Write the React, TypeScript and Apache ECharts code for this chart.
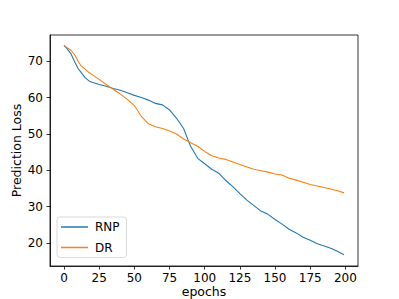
import React, { useEffect, useRef } from "react";
import * as echarts from "echarts";

const epochs = [0, 2, 5, 8, 10, 12, 15, 18, 20, 25, 30, 35, 40, 45, 50, 55, 60, 65, 70, 75, 80, 85, 88, 90, 95, 100, 105, 110, 115, 120, 125, 130, 135, 140, 145, 150, 155, 160, 165, 170, 175, 180, 185, 190, 195, 199];
const rnp = [74.3, 73.5, 72, 69.5, 68, 67, 65.5, 64.5, 64.2, 63.6, 63.1, 62.5, 62, 61.3, 60.6, 60, 59.3, 58.4, 58, 56.6, 54.3, 51.5, 48.5, 46.6, 43.3, 41.8, 40.3, 39.2, 37.2, 35.5, 33.6, 31.8, 30.3, 28.8, 27.9, 26.5, 25.2, 23.8, 22.8, 21.6, 20.8, 19.8, 19.2, 18.5, 17.6, 16.8];
const dr = [74.3, 73.8, 73, 71.5, 70, 68.8, 67.8, 66.8, 66.3, 65, 63.6, 62.3, 61, 59.5, 57.8, 54.8, 52.8, 52, 51.5, 50.8, 50, 48.6, 48, 47.6, 46.6, 45.2, 44, 43.4, 43, 42.3, 41.6, 40.9, 40.3, 39.9, 39.5, 39, 38.7, 37.8, 37.3, 36.7, 36.1, 35.7, 35.3, 34.8, 34.3, 33.8];
const xTicks = [0, 25, 50, 75, 100, 125, 150, 175, 200];
const yTicks = [20, 30, 40, 50, 60, 70];

const FONT = "DejaVu Sans";

export default function App() {
  const ref = useRef<HTMLDivElement>(null);
  useEffect(() => {
    const chart = echarts.init(ref.current!, null, { renderer: "svg" });
    chart.setOption({
      animation: false,
      backgroundColor: "#fff",
      grid: {
        left: 50,
        top: 35,
        right: 41,
        bottom: 33,
        containLabel: false,
        outerBoundsMode: "none",
        show: true,
        borderColor: "#000",
        borderWidth: 0.8,
        backgroundColor: "transparent",
      },
      legend: {
        orient: "vertical",
        left: 57,
        top: 217,
        icon: "rect",
        itemWidth: 27,
        itemHeight: 1.5,
        itemGap: 8.5,
        padding: [4, 7, 4, 4],
        backgroundColor: "#fff",
        borderColor: "#d9d9d9",
        borderWidth: 1,
        borderRadius: 3,
        textStyle: { fontFamily: FONT, fontSize: 12, color: "#000", padding: [0, 0, 0, 2] },
        data: ["RNP", "DR"],
      },
      xAxis: {
        type: "value",
        min: -9.95,
        max: 208.95,
        name: "epochs",
        nameLocation: "middle",
        nameGap: 19,
        nameMoveOverlap: false,
        nameTextStyle: { fontFamily: FONT, fontSize: 12.5, color: "#000" },
        axisLine: { show: true, onZero: false, lineStyle: { color: "#000", width: 0.8 } },
        axisTick: { show: true, length: 3.5, customValues: xTicks, lineStyle: { color: "#000", width: 0.8 } },
        axisLabel: { customValues: xTicks, margin: 6, fontFamily: FONT, fontSize: 12, color: "#000" },
        splitLine: { show: false },
      },
      yAxis: {
        type: "value",
        min: 13.7,
        max: 77.2,
        name: "Prediction Loss",
        nameLocation: "middle",
        nameGap: 27,
        nameMoveOverlap: false,
        nameTextStyle: { fontFamily: FONT, fontSize: 12.5, color: "#000" },
        axisLine: { show: true, onZero: false, lineStyle: { color: "#000", width: 0.8 } },
        axisTick: { show: true, length: 3.5, customValues: yTicks, lineStyle: { color: "#000", width: 0.8 } },
        axisLabel: { customValues: yTicks, margin: 7, fontFamily: FONT, fontSize: 12, color: "#000" },
        splitLine: { show: false },
      },
      series: [
        {
          name: "RNP",
          type: "line",
          data: epochs.map((e, i) => [e, rnp[i]]),
          symbol: "none",
          lineStyle: { color: "#1f77b4", width: 1.1 },
          itemStyle: { color: "#1f77b4" },
        },
        {
          name: "DR",
          type: "line",
          data: epochs.map((e, i) => [e, dr[i]]),
          symbol: "none",
          lineStyle: { color: "#ff7f0e", width: 1.1 },
          itemStyle: { color: "#ff7f0e" },
        },
      ],
    });
    return () => chart.dispose();
  }, []);
  return (
    <div
      ref={ref}
      style={{ position: "fixed", left: 0, top: 0, width: 399, height: 299 }}
    />
  );
}
